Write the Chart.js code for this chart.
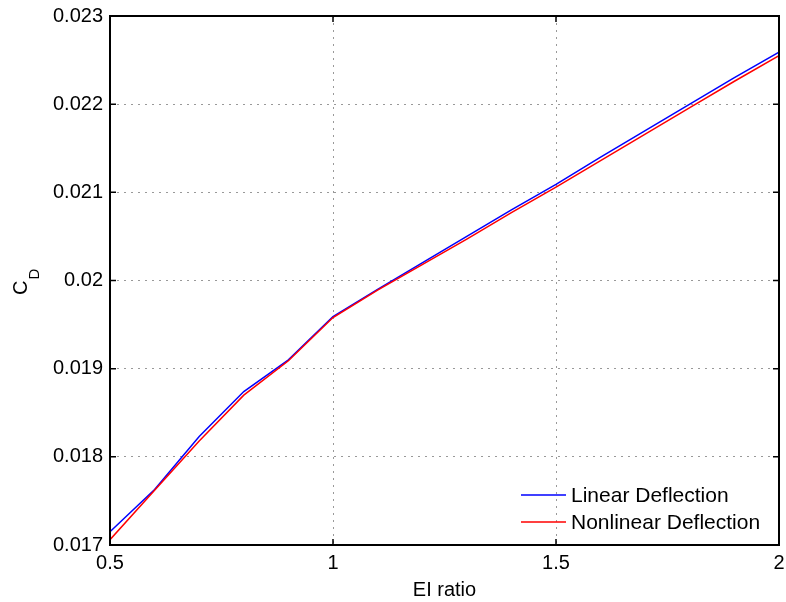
<!DOCTYPE html>
<html>
<head>
<meta charset="utf-8">
<script src="https://cdn.jsdelivr.net/npm/chart.js@4/dist/chart.umd.min.js"></script>
<style>
  body { margin: 0; background: #fff; }
  #wrap { width: 786px; height: 602px; }
</style>
</head>
<body>
<div id="wrap"><canvas id="myChart"></canvas></div>
<script>
// EI ratio values and drag coefficient
const eiRatio = [0.5, 0.6, 0.7, 0.8, 0.9, 1.0, 1.1, 1.2, 1.3, 1.4, 1.5, 1.6, 1.7, 1.8, 1.9, 2.0];
const linearCd = [0.01715, 0.01763, 0.01823, 0.01874, 0.01910, 0.01959, 0.01990, 0.02020, 0.02050,
                  0.02080, 0.02109, 0.02140, 0.02170, 0.02200, 0.02230, 0.02259];
const nonlinearCd = [0.01706, 0.01762, 0.01818, 0.01870, 0.01909, 0.01958, 0.01989, 0.02018, 0.02047,
                     0.02077, 0.02106, 0.02136, 0.02166, 0.02196, 0.02226, 0.02255];
const xTicks = [0.5, 1, 1.5, 2];
const yTicks = [0.017, 0.018, 0.019, 0.020, 0.021, 0.022, 0.023];
const seriesNames = ['Linear Deflection', 'Nonlinear Deflection'];

const FONT = '"Liberation Sans", Arial, sans-serif';

// frame, inward ticks, y title with subscript, legend inside the axes
const matlabLook = {
  id: 'matlabLook',
  afterDraw(chart) {
    const ctx = chart.ctx;
    const a = chart.chartArea;
    const xs = chart.scales.x, ys = chart.scales.y;
    ctx.save();
    ctx.strokeStyle = '#000';
    ctx.lineWidth = 2;
    ctx.strokeRect(a.left, a.top, a.right - a.left, a.bottom - a.top);
    ctx.lineWidth = 1.5;
    ctx.beginPath();
    xTicks.forEach(v => {
      const px = xs.getPixelForValue(v);
      ctx.moveTo(px, a.bottom); ctx.lineTo(px, a.bottom - 6);
      ctx.moveTo(px, a.top); ctx.lineTo(px, a.top + 6);
    });
    yTicks.forEach(v => {
      const py = ys.getPixelForValue(v);
      ctx.moveTo(a.left, py); ctx.lineTo(a.left + 6, py);
      ctx.moveTo(a.right, py); ctx.lineTo(a.right - 6, py);
    });
    ctx.stroke();

    // y title: C with subscript D
    ctx.fillStyle = '#000';
    ctx.translate(27, (a.top + a.bottom) / 2);
    ctx.rotate(-Math.PI / 2);
    ctx.textBaseline = 'alphabetic';
    ctx.textAlign = 'left';
    ctx.font = '20px ' + FONT;
    const cw = ctx.measureText('C').width;
    ctx.fillText('C', -cw, 0);
    ctx.font = '15px ' + FONT;
    ctx.fillText('D', 1, 12);
    ctx.restore();

    // legend
    ctx.save();
    ctx.font = '21px ' + FONT;
    ctx.textBaseline = 'middle';
    ctx.fillStyle = '#000';
    ctx.lineWidth = 1.5;
    chart.data.datasets.forEach((ds, i) => {
      const y = a.bottom - 50 + i * 27;
      const x0 = a.right - 258;
      ctx.strokeStyle = ds.borderColor;
      ctx.beginPath();
      ctx.moveTo(x0, y); ctx.lineTo(x0 + 45, y);
      ctx.stroke();
      ctx.fillText(ds.label, x0 + 50, y + 1);
    });
    ctx.restore();
  }
};

new Chart(document.getElementById('myChart').getContext('2d'), {
  type: 'line',
  data: {
    datasets: [{
      label: seriesNames[0],
      data: eiRatio.map((x, i) => ({x: x, y: linearCd[i]})),
      borderColor: '#0000ff',
      borderWidth: 1.5,
      pointRadius: 0,
      fill: false,
      tension: 0,
      order: 2
    }, {
      label: seriesNames[1],
      data: eiRatio.map((x, i) => ({x: x, y: nonlinearCd[i]})),
      borderColor: '#ff0000',
      borderWidth: 1.5,
      pointRadius: 0,
      fill: false,
      tension: 0,
      order: 1
    }]
  },
  options: {
    responsive: true,
    maintainAspectRatio: false,
    animation: false,
    layout: {padding: {top: 16, right: 7, left: 0, bottom: 0}},
    plugins: {legend: {display: false}, tooltip: {enabled: false}},
    scales: {
      x: {
        type: 'linear',
        min: 0.5,
        max: 2,
        afterBuildTicks: s => { s.ticks = xTicks.map(v => ({value: v})); },
        afterFit: s => { s.height = 57; s.paddingLeft = 0; s.paddingRight = 0; },
        ticks: {
          color: '#000',
          font: {family: FONT, size: 20},
          padding: 6,
          maxRotation: 0,
          callback: v => String(v)
        },
        grid: {color: 'rgba(0,0,0,0.4)', drawTicks: false, lineWidth: 1},
        border: {display: false, dash: [2, 5]},
        title: {
          display: true,
          text: 'EI ratio',
          color: '#000',
          font: {family: FONT, size: 20},
          padding: {top: 0, bottom: 0}
        }
      },
      y: {
        type: 'linear',
        min: 0.017,
        max: 0.023,
        afterBuildTicks: s => { s.ticks = yTicks.map(v => ({value: v})); },
        afterFit: s => { s.width = 110; s.paddingTop = 0; s.paddingBottom = 0; },
        ticks: {
          color: '#000',
          font: {family: FONT, size: 20},
          padding: 7,
          callback: v => String(+v.toFixed(3))
        },
        grid: {color: 'rgba(0,0,0,0.4)', drawTicks: false, lineWidth: 1},
        border: {display: false, dash: [2, 5]}
      }
    }
  },
  plugins: [matlabLook]
});
</script>
</body>
</html>
